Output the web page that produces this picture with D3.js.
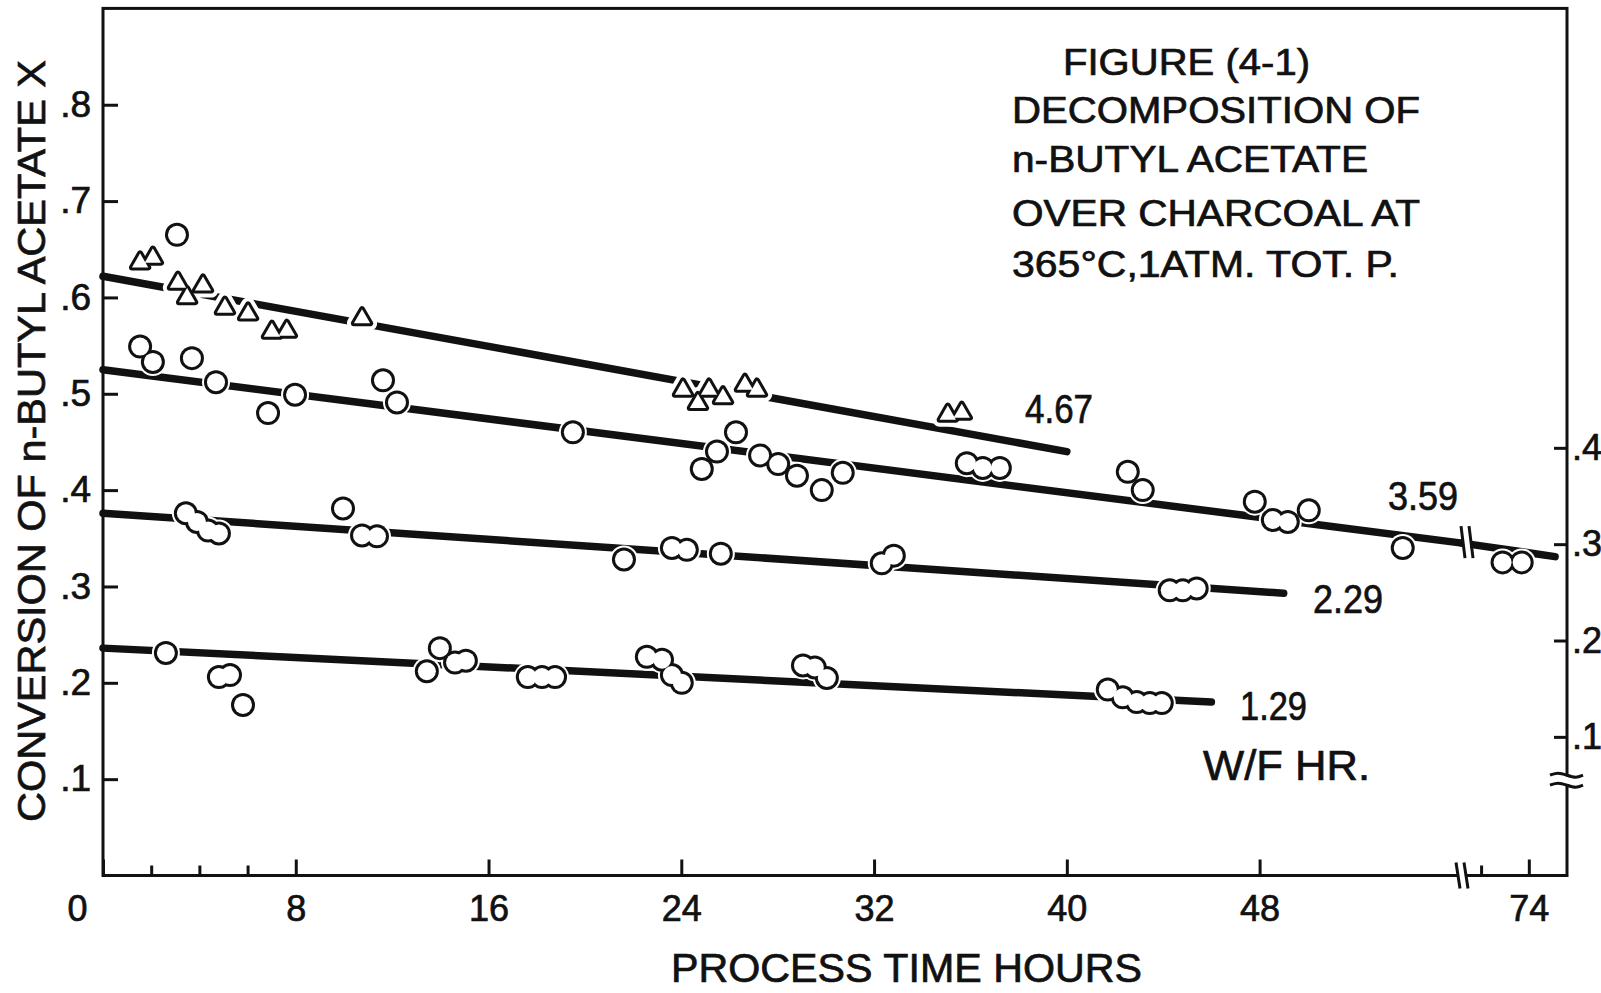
<!DOCTYPE html>
<html>
<head>
<meta charset="utf-8">
<script src="https://cdn.jsdelivr.net/npm/d3@7"></script>
<style>
  body { margin: 0; background: #fff; }
  svg { display: block; }
  text { font-family: "Liberation Sans", Arial, sans-serif; fill: #111; stroke: #111; stroke-width: 0.7; }
</style>
</head>
<body>
<svg id="chart" width="1601" height="993"></svg>
<script>
// process time (hours) and conversion X for each W/F value
var time467 = [1.54, 2.07, 3.11, 3.49, 4.15, 5.06, 6.02, 7.01, 7.63, 10.75, 24.07, 24.69, 25.15, 25.73, 26.64, 27.14, 35.06, 35.64];
var conv467 = [0.636, 0.641, 0.615, 0.600, 0.612, 0.589, 0.583, 0.564, 0.565, 0.578, 0.504, 0.490, 0.504, 0.496, 0.509, 0.504, 0.478, 0.480];

var time359 = [3.07, 1.54, 2.07, 3.69, 4.69, 6.85, 7.97, 11.62, 12.2, 19.5, 24.85, 25.48, 26.27, 27.27, 28.02, 28.8, 29.83, 30.7, 35.85, 36.51, 37.22, 42.53, 43.15, 47.8, 48.55, 49.17, 50.04, 53.94, 72.9, 73.7];
var conv359 = [0.665, 0.549, 0.533, 0.537, 0.512, 0.480, 0.499, 0.514, 0.491, 0.460, 0.422, 0.440, 0.460, 0.436, 0.427, 0.415, 0.400, 0.418, 0.428, 0.423, 0.423, 0.419, 0.400, 0.388, 0.369, 0.367, 0.379, 0.340, 0.325, 0.325];

var time229 = [3.44, 3.90, 4.36, 4.81, 9.96, 10.75, 11.37, 21.62, 23.61, 24.23, 25.64, 32.32, 32.82, 44.27, 44.81, 45.39];
var conv229 = [0.376, 0.367, 0.358, 0.355, 0.381, 0.353, 0.352, 0.328, 0.340, 0.338, 0.334, 0.324, 0.332, 0.296, 0.296, 0.298];

var time129 = [2.61, 4.81, 5.27, 5.81, 13.98, 13.44, 14.61, 15.06, 17.63, 18.22, 18.76, 22.57, 23.2, 23.61, 24.02, 29.05, 29.54, 30.04, 41.7, 42.32, 42.9, 43.44, 43.94];
var conv129 = [0.231, 0.206, 0.208, 0.177, 0.236, 0.212, 0.221, 0.223, 0.206, 0.206, 0.206, 0.227, 0.224, 0.208, 0.200, 0.218, 0.216, 0.205, 0.193, 0.185, 0.180, 0.179, 0.179];

// fitted straight lines, end points [hours, X]
var fit467 = [[0, 0.622], [40, 0.44]];
var fit359 = [[0, 0.525], [56.4, 0.345]];
var fit359b = [[71.2, 0.345], [75.1, 0.331]];
var fit229 = [[0, 0.376], [49, 0.293]];
var fit129 = [[0, 0.236], [46, 0.180]];

var xTicks = [0, 8, 16, 24, 32, 40, 48, 74];
var xMinorTicks = [2, 4, 6, 72];
var yTicks = [0.1, 0.2, 0.3, 0.4, 0.5, 0.6, 0.7, 0.8];
var yRightTicks = [0.1, 0.2, 0.3, 0.4];
var seriesLabels = ['4.67', '3.59', '2.29', '1.29'];
var titleLines = ['FIGURE (4-1)', 'DECOMPOSITION OF', 'n-BUTYL ACETATE', 'OVER CHARCOAL AT', '365\u00B0C,1ATM. TOT. P.'];

var svg = d3.select('#chart');

// time axis is broken between 56.4 and 71.2 hours
var x = d3.scaleLinear().domain([0, 56.4, 71.2, 75.6]).range([103, 1462, 1462, 1567]);
var y = d3.scaleLinear().domain([0, 0.9]).range([875.5, 8.4]);
var yRight = d3.scaleLinear().domain([0, 0.9]).range([833.2, -33.9]);

function pairs(t, c) {
  return t.map(function (d, i) { return [d, c[i]]; });
}

function dotFormat(d) {
  return d3.format('.1f')(d).replace(/^0/, '');
}

// frame
svg.append('rect')
  .attr('x', x(0)).attr('y', y(0.9))
  .attr('width', x(75.6) - x(0)).attr('height', y(0) - y(0.9))
  .attr('fill', 'none').attr('stroke', '#111').attr('stroke-width', 3);

function styleAxis(g, size) {
  g.select('.domain').remove();
  g.selectAll('line').attr('stroke', '#111').attr('stroke-width', 3);
  g.selectAll('text').attr('font-size', size).attr('fill', '#111')
    .style('font-family', '"Liberation Sans", Arial, sans-serif');
}

var xAxis = svg.append('g')
  .attr('transform', 'translate(0,' + y(0) + ')')
  .call(d3.axisBottom(x).tickValues(xTicks).tickSize(-16).tickPadding(20).tickFormat(d3.format('d')));
styleAxis(xAxis, 36);
xAxis.selectAll('text').attr('dx', function (d) { return d === 0 ? -26 : 0; });

var xMinor = svg.append('g')
  .attr('transform', 'translate(0,' + y(0) + ')')
  .call(d3.axisBottom(x).tickValues(xMinorTicks).tickSize(-10).tickFormat(''));
styleAxis(xMinor, 36);

var yAxis = svg.append('g')
  .attr('transform', 'translate(' + x(0) + ',0)')
  .call(d3.axisLeft(y).tickValues(yTicks).tickSize(-15).tickPadding(12).tickFormat(dotFormat));
styleAxis(yAxis, 37);

var yAxisRight = svg.append('g')
  .attr('transform', 'translate(' + x(75.6) + ',0)')
  .call(d3.axisRight(yRight).tickValues(yRightTicks).tickSize(-13).tickPadding(5).tickFormat(dotFormat));
styleAxis(yAxisRight, 36);

// fitted lines
var line = d3.line().x(function (d) { return x(d[0]); }).y(function (d) { return y(d[1]); });
[fit467, fit359, fit359b, fit229, fit129].forEach(function (f) {
  svg.append('path').attr('d', line(f))
    .attr('fill', 'none').attr('stroke', '#111')
    .attr('stroke-width', 7.5).attr('stroke-linecap', 'round');
});

// break marks
function breakMark(cx, cy, h) {
  svg.append('rect').attr('x', cx - 3).attr('y', cy - 6).attr('width', 6).attr('height', 12).attr('fill', '#fff');
  [-4, 4].forEach(function (o) {
    svg.append('line')
      .attr('x1', cx + o - 2).attr('y1', cy - h / 2)
      .attr('x2', cx + o + 2).attr('y2', cy + h / 2)
      .attr('stroke', '#111').attr('stroke-width', 3);
  });
}
breakMark(x(56.4), y(0), 26);
breakMark(x(56.4) + 5, y(0.345) - 1, 32);

var rx = x(75.6), ry = yRight(0.055);
svg.append('rect').attr('x', rx - 3).attr('y', ry - 4).attr('width', 6).attr('height', 8).attr('fill', '#fff');
var wave = d3.line().curve(d3.curveBasis);
[-5, 5].forEach(function (o) {
  svg.append('path')
    .attr('d', wave([[rx - 17, ry + o], [rx - 9, ry + o - 3], [rx, ry + o], [rx + 9, ry + o + 3], [rx + 16, ry + o]]))
    .attr('fill', 'none').attr('stroke', '#111').attr('stroke-width', 3);
});

// markers: white halo, then black body, then white inside -> merged outlines
var circleSets = [pairs(time359, conv359), pairs(time229, conv229), pairs(time129, conv129)];
var triPts = pairs(time467, conv467);
var tri = d3.symbol().type(d3.symbolTriangle).size(115);

circleSets.forEach(function (pts) {
  svg.append('g').selectAll('circle').data(pts).enter().append('circle')
    .attr('cx', function (d) { return x(d[0]); }).attr('cy', function (d) { return y(d[1]); })
    .attr('r', 14).attr('fill', '#fff');
});
svg.append('g').selectAll('path').data(triPts).enter().append('path')
  .attr('d', tri).attr('transform', function (d) { return 'translate(' + x(d[0]) + ',' + y(d[1]) + ')'; })
  .attr('fill', '#fff').attr('stroke', '#fff').attr('stroke-width', 14).attr('stroke-linejoin', 'round');

circleSets.forEach(function (pts) {
  svg.append('g').selectAll('circle').data(pts).enter().append('circle')
    .attr('cx', function (d) { return x(d[0]); }).attr('cy', function (d) { return y(d[1]); })
    .attr('r', 12).attr('fill', '#111');
  svg.append('g').selectAll('circle').data(pts).enter().append('circle')
    .attr('cx', function (d) { return x(d[0]); }).attr('cy', function (d) { return y(d[1]); })
    .attr('r', 9).attr('fill', '#fff');
});
svg.append('g').selectAll('path').data(triPts).enter().append('path')
  .attr('d', tri).attr('transform', function (d) { return 'translate(' + x(d[0]) + ',' + y(d[1]) + ')'; })
  .attr('fill', '#111').attr('stroke', '#111').attr('stroke-width', 6).attr('stroke-linejoin', 'round');
svg.append('g').selectAll('path').data(triPts).enter().append('path')
  .attr('d', tri).attr('transform', function (d) { return 'translate(' + x(d[0]) + ',' + y(d[1]) + ')'; })
  .attr('fill', '#fff');

// series labels
function label(txt, x0, base, w, size) {
  svg.append('text').attr('x', x0).attr('y', base)
    .attr('font-size', size).attr('textLength', w).attr('lengthAdjust', 'spacingAndGlyphs')
    .text(txt);
}
label(seriesLabels[0], 1025, 423, 68, 40);
label(seriesLabels[1], 1388, 510, 70, 40);
label(seriesLabels[2], 1313, 613, 70, 40);
label(seriesLabels[3], 1240, 720, 67, 40);
label('W/F HR.', 1203, 780, 167, 42);

// title block
var titleX = [1063, 1012, 1012, 1012, 1012];
var titleW = [247, 408, 356, 408, 387];
var titleBase = [75, 123, 172, 226, 277];
titleLines.forEach(function (t, i) {
  label(t, titleX[i], titleBase[i], titleW[i], 37);
});

// axis titles
svg.append('text').attr('x', 671).attr('y', 982)
  .attr('font-size', 40).attr('textLength', 471).attr('lengthAdjust', 'spacingAndGlyphs')
  .text('PROCESS TIME HOURS');
svg.append('text').attr('transform', 'translate(45,441) rotate(-90)')
  .attr('text-anchor', 'middle').attr('font-size', 38)
  .attr('textLength', 762).attr('lengthAdjust', 'spacingAndGlyphs')
  .text('CONVERSION OF n-BUTYL ACETATE X');
</script>
</body>
</html>
